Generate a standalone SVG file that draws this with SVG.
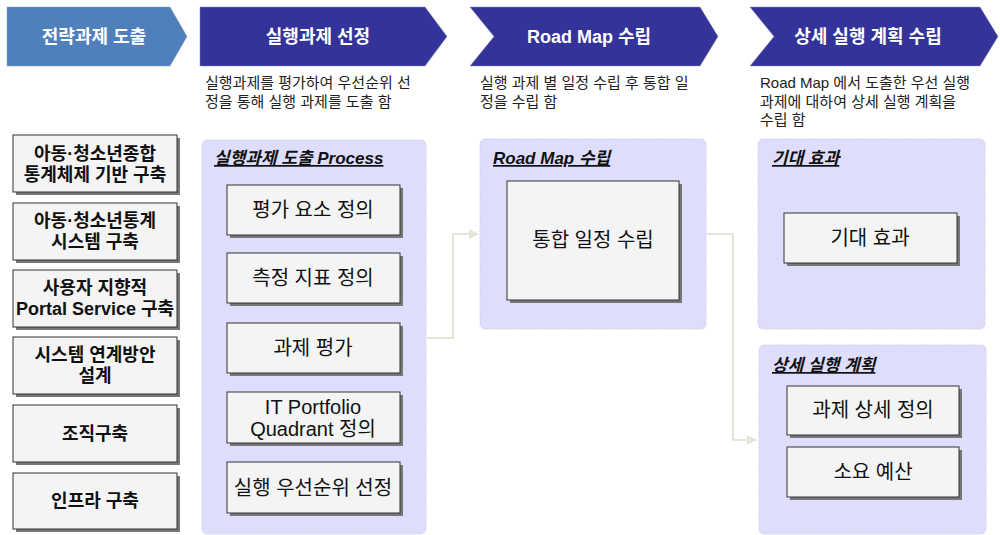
<svg xmlns="http://www.w3.org/2000/svg" width="1000" height="535" viewBox="0 0 1000 535">
<defs>
<style>
.t{font-family:"Liberation Sans","Noto Sans CJK KR",sans-serif;}
.hd{font-size:18px;font-weight:bold;fill:#fff;text-anchor:middle;}
.ds{font-size:15px;fill:#222;}
.lb{font-size:18px;font-weight:bold;fill:#111;text-anchor:middle;}
.bx{fill:#f4f4f4;stroke:#333;stroke-width:1;}
.sh{fill:#777;}
.pn{fill:#dedefc;stroke:#d2d2ee;stroke-width:1;stroke-dasharray:2 1;}
.pt{font-size:17px;font-weight:bold;font-style:italic;text-decoration:underline;fill:#111;}
.it{font-size:20px;fill:#111;text-anchor:middle;}
.cn{fill:none;stroke:#e6e4d6;stroke-width:2;}
</style>
<marker id="ar" viewBox="0 0 10 10" refX="9" refY="5" markerWidth="5" markerHeight="5" orient="auto"><path d="M0,0 L10,5 L0,10 Z" fill="#e6e4d6"/></marker>
</defs>
<rect width="1000" height="535" fill="#fff"/>

<g id="header1"><path d="M7,7 H170 L187,36.5 L170,66 H7 Z" fill="#4f80bc" stroke="#8a9ab0" stroke-width="0.5"/><text class="t hd" x="94" y="43">전략과제 도출</text></g>
<g id="header2"><path d="M200,7 H425 L447,36.5 L425,66 H200 Z" fill="#333399" stroke="#8888aa" stroke-width="0.5"/><text class="t hd" x="318" y="43">실행과제 선정</text>
<text class="t ds" x="205" y="88">실행과제를 평가하여 우선순위 선</text><text class="t ds" x="205" y="107">정을 통해 실행 과제를 도출 함</text></g>
<g id="header3"><path d="M470,7 H700 L718,36.5 L700,66 H470 L494,36.5 Z" fill="#333399" stroke="#8888aa" stroke-width="0.5"/><text class="t hd" x="589" y="43">Road Map 수립</text>
<text class="t ds" x="480" y="88">실행 과제 별 일정 수립 후 통합 일</text><text class="t ds" x="480" y="107">정을 수립 함</text></g>
<g id="header4"><path d="M750,7 H980 L998,36.5 L980,66 H750 L774,36.5 Z" fill="#333399" stroke="#8888aa" stroke-width="0.5"/><text class="t hd" x="868" y="43">상세 실행 계획 수립</text>
<text class="t ds" x="760" y="88">Road Map 에서 도출한 우선 실행</text><text class="t ds" x="760" y="107">과제에 대하여 상세 실행 계획을</text><text class="t ds" x="760" y="125">수립 함</text></g>

<g id="left1"><rect class="sh" x="16" y="138" width="164" height="57"/><rect class="bx" x="13" y="135" width="164" height="57"/><text class="t lb" x="95" y="160">아동·청소년종합</text><text class="t lb" x="95" y="181">통계체제 기반 구축</text></g>
<g id="left2"><rect class="sh" x="16" y="206" width="164" height="57"/><rect class="bx" x="13" y="203" width="164" height="57"/><text class="t lb" x="95" y="227">아동·청소년통계</text><text class="t lb" x="95" y="248">시스템 구축</text></g>
<g id="left3"><rect class="sh" x="16" y="273" width="164" height="57"/><rect class="bx" x="13" y="270" width="164" height="57"/><text class="t lb" x="95" y="294">사용자 지향적</text><text class="t lb" x="95" y="315">Portal Service 구축</text></g>
<g id="left4"><rect class="sh" x="16" y="340" width="164" height="57"/><rect class="bx" x="13" y="337" width="164" height="57"/><text class="t lb" x="95" y="361">시스템 연계방안</text><text class="t lb" x="95" y="382">설계</text></g>
<g id="left5"><rect class="sh" x="16" y="408" width="164" height="57"/><rect class="bx" x="13" y="405" width="164" height="57"/><text class="t lb" x="95" y="440">조직구축</text></g>
<g id="left6"><rect class="sh" x="16" y="476" width="164" height="56"/><rect class="bx" x="13" y="473" width="164" height="56"/><text class="t lb" x="95" y="507">인프라 구축</text></g>

<g id="panel-process"><rect class="pn" x="202" y="140" width="224" height="394" rx="5"/><text class="t pt" x="214" y="164">실행과제 도출 Process</text></g>
<g id="p1"><rect class="sh" x="230" y="188" width="173" height="50"/><rect class="bx" x="227" y="185" width="173" height="50"/><text class="t it" x="313" y="217">평가 요소 정의</text></g>
<g id="p2"><rect class="sh" x="230" y="256" width="173" height="50"/><rect class="bx" x="227" y="253" width="173" height="50"/><text class="t it" x="313" y="285">측정 지표 정의</text></g>
<g id="p3"><rect class="sh" x="230" y="326" width="173" height="50"/><rect class="bx" x="227" y="323" width="173" height="50"/><text class="t it" x="313" y="355">과제 평가</text></g>
<g id="p4"><rect class="sh" x="230" y="395" width="173" height="51"/><rect class="bx" x="227" y="392" width="173" height="51"/><text class="t it" x="313" y="414">IT Portfolio</text><text class="t it" x="313" y="436">Quadrant 정의</text></g>
<g id="p5"><rect class="sh" x="230" y="465" width="173" height="51"/><rect class="bx" x="227" y="462" width="173" height="51"/><text class="t it" x="313" y="495">실행 우선순위 선정</text></g>

<g id="panel-roadmap"><rect class="pn" x="480" y="139" width="226" height="190" rx="5"/><text class="t pt" x="493" y="164">Road Map 수립</text></g>
<g id="r1"><rect class="sh" x="510" y="184" width="172" height="119"/><rect class="bx" x="507" y="181" width="172" height="119"/><text class="t it" x="593" y="247">통합 일정 수립</text></g>

<g id="panel-effect"><rect class="pn" x="758" y="139" width="227" height="190" rx="5"/><text class="t pt" x="772" y="164">기대 효과</text></g>
<g id="e1"><rect class="sh" x="787" y="216" width="173" height="50"/><rect class="bx" x="784" y="213" width="173" height="50"/><text class="t it" x="870" y="245">기대 효과</text></g>

<g id="panel-plan"><rect class="pn" x="759" y="345" width="227" height="189" rx="5"/><text class="t pt" x="772" y="371">상세 실행 계획</text></g>
<g id="d1"><rect class="sh" x="790" y="389" width="172" height="49"/><rect class="bx" x="787" y="386" width="172" height="49"/><text class="t it" x="873" y="417">과제 상세 정의</text></g>
<g id="d2"><rect class="sh" x="790" y="450" width="172" height="50"/><rect class="bx" x="787" y="447" width="172" height="50"/><text class="t it" x="873" y="479">소요 예산</text></g>

<g id="connectors">
<path class="cn" d="M427,338 H453 V234 H478" marker-end="url(#ar)"/>
<path class="cn" d="M707,234 H733 V440 H756" marker-end="url(#ar)"/>
</g>
</svg>
